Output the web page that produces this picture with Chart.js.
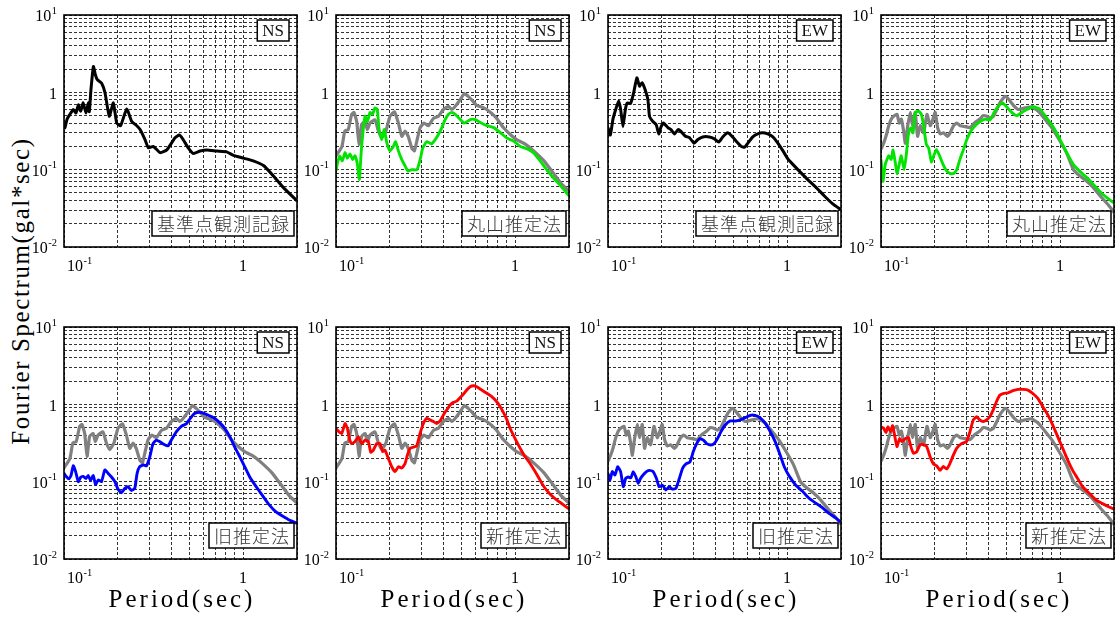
<!DOCTYPE html>
<html><head><meta charset="utf-8">
<script src="https://cdn.jsdelivr.net/npm/chart.js@4.4.1/dist/chart.umd.min.js"></script>
<style>
html,body{margin:0;padding:0;background:#fff;width:1116px;height:617px;overflow:hidden;position:relative;}
#ylab{position:absolute;left:21px;top:291px;white-space:nowrap;font:25px "Liberation Serif",serif;letter-spacing:1.6px;color:#000;transform:translate(-50%,-50%) rotate(-90deg);}
</style></head><body>
<div id="ylab">Fourier Spectrum(gal*sec)</div>
<script>
// ---------- tick values ----------
const xDecades = [0.1, 1];
const yDecades = [0.01, 0.1, 1];
const minorSteps = [1,2,3,4,5,6,7,8,9];
const xRange = [0.1, 2];
const yRange = [0.01, 10];
const xLabelTicks = [0.1, 1];
const yLabelTicks = [0.01, 0.1, 1, 10];

// ---------- series: [period (sec), amplitude (gal*sec)] ----------
const nsObs = [[0.1,0.34],[0.1013,0.35],[0.104,0.45],[0.108,0.52],[0.1127,0.6],[0.1167,0.54],[0.1202,0.69],[0.1239,0.57],[0.128,0.73],[0.1327,0.54],[0.1367,0.73],[0.1385,0.56],[0.1415,1.1],[0.146,2.16],[0.1495,1.7],[0.1534,1.46],[0.162,1.32],[0.1695,0.98],[0.179,0.49],[0.1886,0.73],[0.197,0.4],[0.207,0.37],[0.224,0.61],[0.239,0.42],[0.255,0.37],[0.266,0.33],[0.283,0.246],[0.296,0.192],[0.315,0.2],[0.344,0.166],[0.375,0.18],[0.417,0.258],[0.44,0.28],[0.46,0.25],[0.495,0.19],[0.528,0.162],[0.575,0.174],[0.627,0.18],[0.713,0.174],[0.81,0.17],[0.883,0.153],[1.005,0.141],[1.14,0.13],[1.3,0.113],[1.476,0.083],[1.68,0.0586],[2.0,0.0395]];
const nsGray = [[0.1,0.151],[0.1044,0.175],[0.108,0.2],[0.112,0.316],[0.117,0.33],[0.1224,0.52],[0.126,0.55],[0.1305,0.42],[0.1345,0.213],[0.139,0.385],[0.1453,0.42],[0.1497,0.33],[0.155,0.4],[0.165,0.44],[0.1725,0.316],[0.18,0.26],[0.19,0.316],[0.2,0.49],[0.212,0.56],[0.223,0.4],[0.233,0.27],[0.243,0.316],[0.253,0.27],[0.265,0.19],[0.274,0.175],[0.284,0.245],[0.295,0.35],[0.31,0.4],[0.328,0.37],[0.35,0.46],[0.373,0.49],[0.398,0.6],[0.425,0.66],[0.443,0.6],[0.4635,0.66],[0.495,0.81],[0.52,0.96],[0.55,0.88],[0.58,0.77],[0.61,0.68],[0.67,0.63],[0.73,0.55],[0.79,0.46],[0.86,0.35],[0.94,0.285],[1.02,0.245],[1.14,0.214],[1.27,0.175],[1.45,0.13],[1.63,0.091],[1.83,0.064],[2.0,0.053]];
const nsMaruyama = [[0.1,0.096],[0.102,0.123],[0.105,0.151],[0.1085,0.13],[0.1123,0.166],[0.1157,0.14],[0.1197,0.16],[0.124,0.135],[0.1277,0.151],[0.1316,0.118],[0.135,0.075],[0.139,0.2],[0.1453,0.49],[0.1497,0.42],[0.155,0.55],[0.16,0.52],[0.165,0.63],[0.17,0.6],[0.174,0.33],[0.18,0.245],[0.186,0.33],[0.192,0.225],[0.2,0.175],[0.209,0.2],[0.215,0.23],[0.223,0.175],[0.233,0.135],[0.243,0.112],[0.252,0.096],[0.265,0.1],[0.283,0.1],[0.295,0.135],[0.305,0.19],[0.321,0.23],[0.342,0.215],[0.358,0.245],[0.373,0.285],[0.39,0.35],[0.407,0.445],[0.425,0.52],[0.443,0.55],[0.4635,0.52],[0.495,0.445],[0.52,0.4],[0.5625,0.445],[0.6,0.445],[0.636,0.41],[0.696,0.37],[0.76,0.35],[0.83,0.3],[0.9,0.256],[0.98,0.235],[1.07,0.2],[1.17,0.186],[1.27,0.165],[1.38,0.13],[1.5,0.1],[1.63,0.079],[1.83,0.0588],[2.0,0.0458]];
const nsOld = [[0.1,0.128],[0.1034,0.115],[0.1066,0.109],[0.1094,0.12],[0.1127,0.161],[0.1161,0.135],[0.1202,0.1],[0.1243,0.115],[0.1281,0.117],[0.1326,0.11],[0.1366,0.12],[0.1407,0.104],[0.1457,0.12],[0.15,0.092],[0.1553,0.105],[0.162,0.1],[0.169,0.142],[0.1765,0.128],[0.1842,0.115],[0.1923,0.1],[0.2007,0.079],[0.2095,0.072],[0.2186,0.082],[0.228,0.086],[0.238,0.077],[0.2484,0.082],[0.256,0.128],[0.2646,0.156],[0.2788,0.165],[0.2886,0.16],[0.3014,0.21],[0.3139,0.31],[0.3276,0.345],[0.3419,0.33],[0.3646,0.3],[0.381,0.29],[0.3975,0.345],[0.4235,0.44],[0.4518,0.52],[0.482,0.56],[0.5071,0.66],[0.5357,0.76],[0.5714,0.79],[0.6095,0.76],[0.65,0.71],[0.6935,0.66],[0.74,0.58],[0.7892,0.49],[0.8418,0.385],[0.8983,0.28],[0.9585,0.21],[1.02,0.157],[1.087,0.116],[1.18,0.087],[1.29,0.065],[1.4,0.05],[1.52,0.041],[1.66,0.036],[1.81,0.032],[2.0,0.029]];
const nsNew = [[0.1,0.49],[0.103,0.45],[0.1076,0.42],[0.1123,0.565],[0.1157,0.49],[0.1187,0.363],[0.1223,0.31],[0.1277,0.33],[0.1333,0.38],[0.1391,0.31],[0.1452,0.345],[0.1516,0.33],[0.1563,0.24],[0.1617,0.256],[0.1687,0.31],[0.1762,0.31],[0.1823,0.245],[0.1878,0.255],[0.196,0.2],[0.2046,0.156],[0.2136,0.135],[0.223,0.156],[0.2327,0.15],[0.243,0.171],[0.2503,0.22],[0.2591,0.27],[0.2704,0.28],[0.2823,0.29],[0.2947,0.42],[0.3075,0.565],[0.321,0.66],[0.335,0.63],[0.35,0.6],[0.365,0.565],[0.381,0.61],[0.398,0.73],[0.415,0.845],[0.4335,0.98],[0.4524,1.06],[0.4722,1.1],[0.4929,1.22],[0.5145,1.35],[0.537,1.53],[0.5605,1.69],[0.585,1.74],[0.6107,1.69],[0.6514,1.53],[0.6948,1.39],[0.7407,1.26],[0.7902,1.08],[0.8424,0.86],[0.8983,0.64],[0.937,0.49],[1.0,0.36],[1.067,0.27],[1.13,0.215],[1.21,0.173],[1.32,0.125],[1.44,0.088],[1.569,0.069],[1.709,0.058],[1.862,0.05],[2.0,0.0444]];

const ewObs = [[0.1,0.35],[0.103,0.28],[0.1066,0.45],[0.1104,0.6],[0.1147,0.77],[0.1177,0.6],[0.1212,0.36],[0.125,0.6],[0.128,0.73],[0.1338,0.72],[0.139,0.98],[0.145,1.54],[0.15,1.2],[0.1546,1.33],[0.16,1.14],[0.167,0.81],[0.1705,0.49],[0.178,0.42],[0.186,0.38],[0.192,0.29],[0.198,0.36],[0.204,0.4],[0.216,0.35],[0.2246,0.33],[0.235,0.29],[0.2465,0.33],[0.2545,0.316],[0.2708,0.27],[0.285,0.26],[0.302,0.22],[0.3175,0.245],[0.338,0.265],[0.368,0.265],[0.393,0.25],[0.415,0.227],[0.437,0.265],[0.466,0.3],[0.493,0.27],[0.519,0.235],[0.555,0.2],[0.579,0.195],[0.604,0.22],[0.643,0.265],[0.685,0.29],[0.73,0.3],[0.7795,0.29],[0.833,0.265],[0.888,0.22],[0.948,0.175],[1.01,0.138],[1.077,0.117],[1.174,0.095],[1.3,0.075],[1.45,0.059],[1.61,0.046],[1.79,0.0364],[2.0,0.0303]];
const ewGray = [[0.1,0.183],[0.1035,0.22],[0.1066,0.27],[0.1103,0.366],[0.114,0.45],[0.1177,0.49],[0.1228,0.52],[0.1265,0.4],[0.13,0.45],[0.1338,0.316],[0.1367,0.22],[0.141,0.37],[0.1458,0.55],[0.15,0.37],[0.1553,0.55],[0.16,0.27],[0.1657,0.37],[0.173,0.3],[0.1805,0.52],[0.1884,0.37],[0.195,0.45],[0.2008,0.55],[0.207,0.35],[0.214,0.29],[0.2235,0.3],[0.2354,0.27],[0.2435,0.3],[0.254,0.37],[0.265,0.4],[0.277,0.37],[0.295,0.36],[0.3145,0.35],[0.3315,0.4],[0.355,0.45],[0.373,0.5],[0.39,0.49],[0.407,0.465],[0.424,0.49],[0.443,0.6],[0.467,0.77],[0.494,0.89],[0.515,0.82],[0.549,0.68],[0.585,0.6],[0.636,0.63],[0.694,0.65],[0.756,0.57],[0.823,0.45],[0.8975,0.35],[0.998,0.235],[1.087,0.165],[1.185,0.101],[1.29,0.083],[1.4,0.072],[1.53,0.059],[1.7,0.044],[1.86,0.035],[2.0,0.028]];
const ewMaruyama = [[0.1,0.136],[0.1026,0.071],[0.1057,0.118],[0.1103,0.151],[0.114,0.136],[0.1167,0.18],[0.1202,0.123],[0.1228,0.089],[0.1265,0.118],[0.1297,0.151],[0.1347,0.1],[0.1382,0.151],[0.1426,0.3],[0.147,0.35],[0.151,0.3],[0.1553,0.55],[0.162,0.57],[0.168,0.52],[0.173,0.37],[0.179,0.213],[0.1846,0.19],[0.1912,0.126],[0.197,0.151],[0.204,0.183],[0.2124,0.151],[0.2217,0.118],[0.2314,0.098],[0.2435,0.089],[0.254,0.089],[0.265,0.1],[0.277,0.14],[0.289,0.183],[0.3015,0.245],[0.3175,0.316],[0.3355,0.37],[0.3578,0.42],[0.3815,0.45],[0.407,0.44],[0.428,0.55],[0.452,0.66],[0.478,0.73],[0.503,0.65],[0.537,0.55],[0.573,0.5],[0.6115,0.55],[0.6525,0.6],[0.71,0.65],[0.775,0.6],[0.843,0.465],[0.9195,0.35],[1.0,0.245],[1.087,0.167],[1.185,0.117],[1.29,0.095],[1.4,0.08],[1.53,0.065],[1.7,0.05],[1.86,0.042],[2.0,0.037]];
const ewOld = [[0.1,0.128],[0.1026,0.105],[0.1057,0.135],[0.1094,0.122],[0.1132,0.156],[0.1176,0.135],[0.1217,0.086],[0.1254,0.11],[0.1298,0.115],[0.1342,0.112],[0.1383,0.135],[0.1432,0.115],[0.1475,0.095],[0.1519,0.11],[0.157,0.122],[0.164,0.135],[0.171,0.14],[0.1786,0.135],[0.1865,0.11],[0.1929,0.086],[0.2015,0.09],[0.2104,0.078],[0.2197,0.086],[0.2294,0.08],[0.2396,0.082],[0.2502,0.11],[0.2612,0.15],[0.2728,0.17],[0.2868,0.18],[0.2995,0.245],[0.3127,0.31],[0.3265,0.36],[0.341,0.345],[0.3561,0.31],[0.3749,0.298],[0.3915,0.31],[0.4088,0.36],[0.4269,0.44],[0.4514,0.54],[0.4813,0.61],[0.5132,0.61],[0.5472,0.63],[0.5835,0.67],[0.6222,0.72],[0.6634,0.72],[0.7074,0.67],[0.7543,0.57],[0.8043,0.445],[0.8577,0.33],[0.9145,0.222],[0.964,0.156],[1.03,0.117],[1.119,0.09],[1.219,0.075],[1.327,0.061],[1.446,0.0527],[1.575,0.046],[1.715,0.039],[1.868,0.034],[2.0,0.0298]];
const ewNew = [[0.1,0.514],[0.1035,0.49],[0.1066,0.43],[0.1094,0.514],[0.1127,0.445],[0.1161,0.53],[0.1191,0.4],[0.1227,0.284],[0.127,0.36],[0.1308,0.33],[0.1365,0.36],[0.1425,0.37],[0.1468,0.284],[0.1518,0.233],[0.1585,0.245],[0.1654,0.3],[0.1726,0.3],[0.1801,0.284],[0.188,0.21],[0.1962,0.17],[0.2047,0.16],[0.2136,0.14],[0.223,0.157],[0.2327,0.146],[0.2428,0.173],[0.2534,0.22],[0.2644,0.27],[0.2818,0.31],[0.3005,0.33],[0.3136,0.44],[0.3273,0.627],[0.3415,0.69],[0.3564,0.627],[0.3719,0.6],[0.3881,0.627],[0.405,0.69],[0.4227,0.84],[0.4411,1.08],[0.4603,1.31],[0.4804,1.38],[0.5121,1.41],[0.5458,1.5],[0.5818,1.56],[0.6202,1.56],[0.6611,1.53],[0.7048,1.38],[0.7513,1.19],[0.8009,0.93],[0.8538,0.73],[0.9105,0.54],[0.9705,0.38],[1.0347,0.27],[1.1029,0.19],[1.1757,0.14],[1.2534,0.11],[1.3361,0.086],[1.4555,0.071],[1.585,0.058],[1.726,0.052],[1.88,0.047],[2.0,0.044]];

// ---------- layout / style ----------
const colX = [64, 336, 608, 881];
const rowY = [15, 327];
const PW = 233, PH = 232;
const lineStyle = {
  obs: {color:'#000000', width:3},
  gray:{color:'#808080', width:3.2},
  maruyama:{color:'#00e400', width:2.9},
  old:{color:'#0000ff', width:2.9},
  nw:{color:'#ff0000', width:2.9}
};
const panels = [
  {col:0,row:0,comp:'NS',method:'基準点観測記録',series:[['obs',nsObs]]},
  {col:1,row:0,comp:'NS',method:'丸山推定法',series:[['maruyama',nsMaruyama],['gray',nsGray]]},
  {col:2,row:0,comp:'EW',method:'基準点観測記録',series:[['obs',ewObs]]},
  {col:3,row:0,comp:'EW',method:'丸山推定法',series:[['maruyama',ewMaruyama],['gray',ewGray]]},
  {col:0,row:1,comp:'NS',method:'旧推定法',series:[['old',nsOld],['gray',nsGray]]},
  {col:1,row:1,comp:'NS',method:'新推定法',series:[['nw',nsNew],['gray',nsGray]]},
  {col:2,row:1,comp:'EW',method:'旧推定法',series:[['old',ewOld],['gray',ewGray]]},
  {col:3,row:1,comp:'EW',method:'新推定法',series:[['nw',ewNew],['gray',ewGray]]}
];

function buildTicks(decades, top, lo, hi){
  const out = [];
  decades.forEach(d => minorSteps.forEach(m => { const v = +(d*m).toPrecision(6); if (v>=lo-1e-12 && v<=hi+1e-12) out.push(v); }));
  if (!out.includes(top) && top<=hi) out.push(top);
  return out;
}
const xTickVals = buildTicks(xDecades, xRange[1], xRange[0], xRange[1]);
if (!xTickVals.includes(xRange[1])) xTickVals.push(xRange[1]);
const yTickVals = buildTicks(yDecades, yRange[1], yRange[0], yRange[1]);

const SERIF = '"Liberation Serif","Times New Roman",serif';
function drawPow(ctx, v, x, y, align){
  const e = Math.round(Math.log10(v));
  ctx.textBaseline = 'middle';
  ctx.fillStyle = '#000';
  if (e === 0){ ctx.font = '16px '+SERIF; ctx.textAlign = align; ctx.fillText('1', x, y); return; }
  ctx.font = '16px '+SERIF; const w1 = ctx.measureText('10').width;
  const es = String(e);
  ctx.font = '10.5px '+SERIF; const w2 = ctx.measureText(es).width;
  const tot = w1 + w2 + 0.5;
  const sx = align==='right' ? x-tot : (align==='center' ? x-tot/2 : x);
  ctx.textAlign = 'left';
  ctx.font = '16px '+SERIF; ctx.fillText('10', sx, y);
  ctx.font = '10.5px '+SERIF; ctx.fillText(es, sx+w1+0.5, y-6);
}

function boxText(ctx, text, font, spacing, right, top, h, padX, color){
  ctx.font = font;
  try { ctx.letterSpacing = spacing+'px'; } catch(e){}
  const w = ctx.measureText(text).width - spacing;
  const bw = w + 2*padX;
  const left = right - bw;
  ctx.fillStyle = '#fff';
  ctx.fillRect(left, top, bw, h);
  ctx.lineWidth = 1.5; ctx.strokeStyle = '#000';
  ctx.strokeRect(left, top, bw, h);
  ctx.fillStyle = color;
  ctx.textAlign = 'left'; ctx.textBaseline = 'middle';
  ctx.fillText(text, left+padX, top+h/2+1);
  try { ctx.letterSpacing = '0px'; } catch(e){}
}

const panelDeco = {
  id:'panelDeco',
  afterDraw(chart){
    const p = chart.options.plugins.panelDeco;
    const {ctx, chartArea:{left,right,top,bottom}, scales:{x,y}} = chart;
    ctx.save();
    ctx.lineWidth = 1.6; ctx.strokeStyle = '#000';
    ctx.strokeRect(left, top, right-left, bottom-top);
    yLabelTicks.forEach(v => drawPow(ctx, v, left-7, y.getPixelForValue(v)+2, 'right'));
    xLabelTicks.forEach((v,i) => {
      const px = x.getPixelForValue(v);
      drawPow(ctx, v, i===0 ? px+3 : px, bottom+20, i===0 ? 'left' : 'center');
    });
    boxText(ctx, p.comp, '17px '+SERIF, 0, right-8, top+5, 21, 5, '#111');
    boxText(ctx, p.method, '300 18px "Noto Sans CJK JP","Noto Sans CJK SC",sans-serif', 1, right-3, bottom-11-25, 25, 5, '#333');
    if (p.row === 1){
      ctx.font = '25px '+SERIF;
      try { ctx.letterSpacing = '3px'; } catch(e){}
      ctx.fillStyle = '#000'; ctx.textAlign = 'center'; ctx.textBaseline = 'middle';
      ctx.fillText('Period(sec)', (left+right)/2+1.5, bottom+41);
      try { ctx.letterSpacing = '0px'; } catch(e){}
    }
    ctx.restore();
  }
};

const padL = 58, padR = 2, padT = 10, padB = 55;
panels.forEach(p => {
  const L = colX[p.col], T = rowY[p.row];
  const cv = document.createElement('canvas');
  cv.width = PW + padL + padR; cv.height = PH + padT + padB;
  cv.style.cssText = `position:absolute;left:${L-padL}px;top:${T-padT}px;width:${cv.width}px;height:${cv.height}px;`;
  document.body.appendChild(cv);
  const gridOpts = {color:'#000', lineWidth:0.8, drawTicks:false};
  new Chart(cv, {
    type:'line',
    data:{datasets: p.series.map(([k, arr]) => ({
      data: arr.map(([t,a]) => ({x:t, y:a})),
      borderColor: lineStyle[k].color,
      borderWidth: lineStyle[k].width,
      pointRadius: 0, tension: 0.15, fill:false
    }))},
    options:{
      responsive:false, animation:false, devicePixelRatio:1,
      layout:{padding:{left:padL, right:padR, top:padT, bottom:padB}},
      plugins:{legend:{display:false}, tooltip:{enabled:false}, panelDeco:{comp:p.comp, method:p.method, row:p.row}},
      scales:{
        x:{type:'logarithmic', min:xRange[0], max:xRange[1],
           afterBuildTicks: s => { s.ticks = xTickVals.map(v => ({value:v})); },
           ticks:{display:false}, grid:gridOpts, border:{display:false, dash:[3,2]}},
        y:{type:'logarithmic', min:yRange[0], max:yRange[1],
           afterBuildTicks: s => { s.ticks = yTickVals.map(v => ({value:v})); },
           ticks:{display:false}, grid:gridOpts, border:{display:false, dash:[3,2]}}
      }
    },
    plugins:[panelDeco]
  });
});
</script></body></html>
